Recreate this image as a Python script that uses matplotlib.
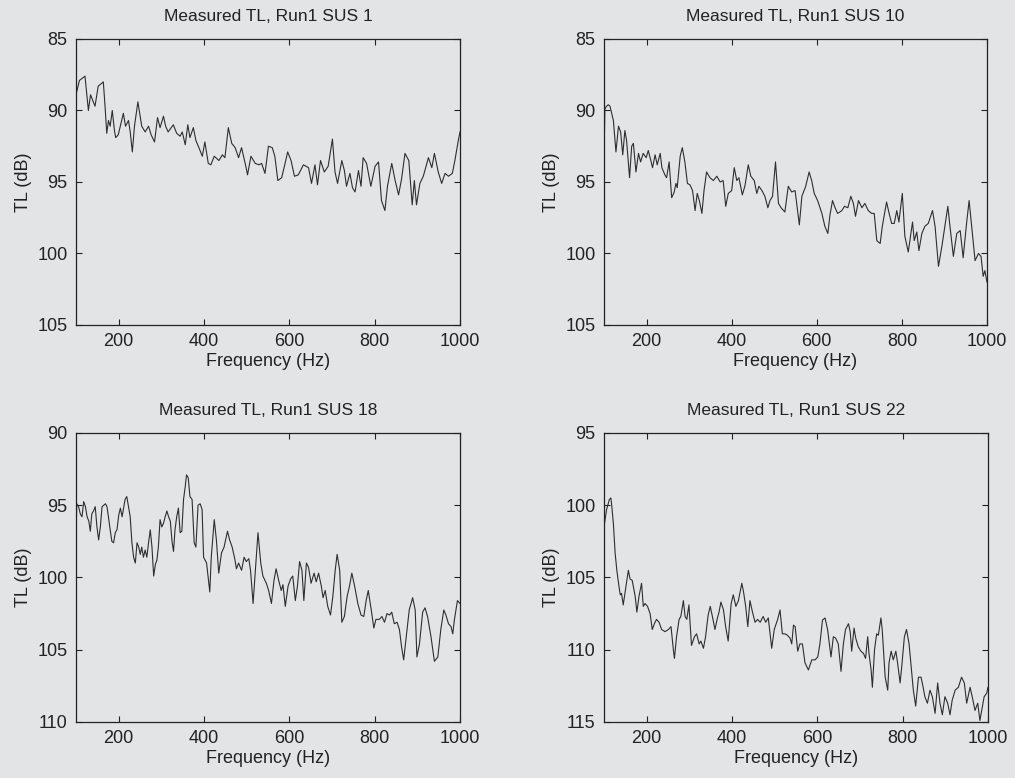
import matplotlib
matplotlib.use("Agg")
import matplotlib.pyplot as plt

plt.rcParams['font.family'] = ['Liberation Sans', 'DejaVu Sans']

titles = ["Measured TL, Run1 SUS 1", "Measured TL, Run1 SUS 10",
          "Measured TL, Run1 SUS 18", "Measured TL, Run1 SUS 22"]
x_ticks = [200, 400, 600, 800, 1000]
y_ranges = [(85, 105), (85, 105), (90, 110), (95, 115)]

freq1 = [100, 108, 121, 129, 134, 144.5, 152, 160, 164, 168, 172, 176, 180, 185, 190, 193, 199, 211, 216, 223,
         227, 232, 237, 245, 254, 262, 270, 276, 284, 291, 297, 305, 310, 316, 328, 336, 344, 349, 356, 362,
         367, 375, 381, 388, 396, 402, 410, 416, 424, 435, 443, 449, 457, 465, 473, 481, 488, 498, 502, 510,
         520, 529, 535, 543, 551, 560, 566, 573, 582, 590, 596, 604, 612, 621, 633, 645, 652, 660, 666, 673,
         682, 691, 701, 707, 713, 723, 729, 734, 742, 748, 754, 762, 768, 773, 781, 791, 801, 809, 816, 824,
         830, 840, 848, 856, 863, 871, 880, 888, 893, 898, 906, 914, 926, 934, 940, 949, 957, 965, 973, 982,
         988, 996, 1000]
tl1 = [88.9, 87.9, 87.6, 90.0, 88.9, 89.7, 88.3, 88.1, 88.0, 89.7, 91.6, 90.7, 91.1, 90.0, 91.4, 91.9, 91.7, 90.2, 91.1, 90.7,
       91.5, 92.9, 91.1, 89.4, 91.1, 91.5, 91.1, 91.7, 92.2, 90.5, 91.2, 90.4, 91.1, 91.5, 91.0, 91.6, 91.8, 91.5, 92.4, 91.0,
       91.9, 91.2, 92.1, 92.6, 93.2, 92.2, 93.7, 93.8, 93.2, 93.5, 93.1, 93.3, 91.2, 92.3, 92.6, 93.3, 92.6, 93.9, 94.5, 93.2,
       93.7, 93.8, 93.7, 94.4, 92.5, 92.6, 93.2, 94.9, 94.7, 93.7, 92.9, 93.5, 94.6, 94.5, 93.8, 94.0, 95.1, 93.8, 95.2, 93.5,
       94.3, 93.9, 92.0, 94.3, 95.1, 93.5, 94.2, 95.3, 94.4, 95.4, 95.7, 94.2, 95.3, 93.3, 93.7, 95.3, 93.9, 93.6, 96.3, 97.0,
       95.3, 93.7, 94.9, 95.9, 94.8, 93.0, 93.5, 96.6, 94.9, 96.6, 95.1, 94.6, 93.3, 94.0, 93.0, 94.3, 95.1, 94.4, 94.6, 94.4,
       93.5, 92.1, 91.5]

freq10 = [100, 102, 106, 110, 114, 122, 126, 128, 134, 139, 144, 149, 153, 160, 165, 169, 175, 181, 186, 192,
          199, 204, 210, 214, 220, 225, 232, 236, 243, 247, 253, 259, 265, 269, 272, 279, 284, 290, 296, 302,
          308, 314, 319, 324, 330, 335, 341, 349, 357, 365, 373, 380, 386, 392, 400, 406, 412, 417, 425, 431,
          439, 445, 453, 459, 464, 471, 478, 485, 490, 496, 503, 510, 516, 525, 533, 541, 549, 559, 565, 574,
          582, 588, 594, 602, 612, 619, 626, 631, 637, 643, 649, 659, 665, 673, 680, 686, 691, 698, 706, 713,
          721, 729, 735, 741, 749, 754, 764, 770, 776, 782, 788, 793, 801, 807, 815, 825, 829, 835, 840, 847,
          854, 862, 872, 878, 886, 894, 901, 908, 913, 921, 929, 937, 944, 952, 958, 964, 972, 980, 986, 991,
          995, 1000]
tl10 = [93.4, 89.9, 89.7, 89.6, 89.7, 90.7, 92.2, 92.9, 91.1, 91.5, 93.1, 91.4, 92.1, 94.7, 92.5, 92.3, 94.3, 93.0, 93.6, 93.0,
        93.3, 92.8, 93.5, 94.0, 93.1, 93.8, 93.0, 94.0, 94.5, 94.7, 93.6, 96.1, 95.7, 95.1, 95.4, 93.2, 92.6, 93.6, 95.1, 95.2,
        95.6, 97.0, 95.8, 96.3, 97.2, 95.6, 94.3, 94.7, 94.9, 94.6, 95.0, 94.9, 96.7, 95.8, 95.6, 94.0, 94.9, 94.7, 95.9, 95.3,
        93.8, 94.6, 94.9, 95.8, 95.3, 95.6, 96.0, 96.8, 96.3, 96.0, 93.6, 96.5, 96.8, 97.1, 95.3, 95.7, 95.6, 98.0, 96.0, 95.3,
        94.3, 94.9, 95.8, 96.3, 97.2, 98.1, 98.6, 97.3, 96.3, 96.8, 97.2, 97.0, 96.7, 96.8, 96.0, 96.5, 97.4, 96.3, 96.8, 96.5,
        97.0, 97.2, 97.2, 99.1, 99.3, 98.1, 96.4, 97.2, 97.9, 97.9, 97.0, 97.8, 95.8, 98.8, 99.9, 97.8, 99.1, 98.5, 99.8, 98.6,
        98.1, 97.9, 97.0, 98.1, 100.9, 99.5, 98.1, 96.7, 98.1, 100.2, 98.6, 98.4, 100.3, 97.9, 96.3, 98.1, 100.5, 100.0, 100.2, 101.6,
        101.2, 102.0]

freq18 = [100, 101.6, 106, 110, 114, 118, 122, 126, 130, 133.5, 137, 141, 145, 149, 153, 157, 161, 165, 169, 172.5,
          176, 180, 184, 188, 192, 196, 200, 204, 208, 211.5, 215, 219, 223, 227, 231, 235, 239, 243, 247, 250.5,
          254, 258, 262, 266, 270, 274, 278, 282, 286, 289.5, 293, 297, 301, 305, 309, 313, 317, 321, 325, 328.5,
          332, 336, 340, 344, 348, 352, 356, 359, 363, 367, 372, 377, 381, 386, 391, 395.5, 399, 406, 413.5, 417,
          424, 429, 434.5, 441, 447, 455, 460, 466, 472, 476, 481, 488, 494, 499, 505, 509, 515, 520, 526.5, 533,
          538, 546, 551.5, 558, 564, 569, 575, 581, 585, 590.5, 597, 603, 608, 614, 619, 624, 629.5, 634, 640, 645,
          651, 658, 663, 668.5, 675, 679, 684, 690, 696.5, 702, 707.5, 712, 718, 723, 729, 735.5, 741, 746.5, 753, 760.5,
          768, 774.5, 780, 785, 792, 798, 803, 811, 817, 823, 829, 835, 840, 846, 852.5, 858, 863, 868, 874, 881,
          889, 895, 899, 905, 912.5, 918, 924, 932, 940, 948, 955, 962, 967, 973, 979, 983, 987, 994, 1000]
tl18 = [97.9, 94.9, 95.1, 95.6, 95.8, 94.75, 95.1, 95.8, 96.1, 96.8, 95.6, 95.4, 95.1, 96.5, 97.4, 96.5, 95.1, 95.0, 94.9, 95.1,
        95.8, 96.7, 97.5, 97.6, 96.9, 96.7, 95.7, 95.2, 95.8, 95.2, 94.6, 94.4, 95.1, 95.8, 97.6, 98.6, 99.0, 97.6, 97.9, 98.4,
        97.9, 98.6, 98.1, 98.6, 97.6, 96.7, 97.9, 99.9, 99.1, 98.8, 97.9, 96.0, 96.5, 96.25, 95.8, 95.4, 95.8, 96.1, 97.5, 98.2,
        96.7, 95.8, 95.2, 96.9, 96.8, 94.6, 93.7, 92.9, 93.1, 94.4, 94.6, 97.6, 97.9, 95.0, 94.9, 95.3, 98.6, 99.0, 101.0, 98.6,
        96.0, 97.4, 99.7, 98.3, 97.9, 96.8, 97.4, 97.9, 98.7, 99.4, 99.0, 99.5, 98.6, 98.9, 98.7, 99.5, 101.8, 99.7, 96.9, 99.0,
        99.9, 100.4, 100.9, 101.8, 100.2, 99.4, 100.2, 100.9, 100.5, 102.0, 100.6, 100.1, 99.9, 101.6, 100.6, 98.9, 99.5, 101.6, 99.0, 99.3,
        100.4, 99.7, 100.3, 99.7, 100.6, 101.4, 100.9, 102.0, 102.6, 101.3, 99.5, 98.4, 99.5, 103.1, 102.7, 101.3, 100.6, 99.7, 100.6, 101.8,
        102.6, 102.7, 101.6, 100.9, 102.25, 103.5, 102.9, 102.9, 102.7, 103.1, 102.5, 102.6, 102.4, 103.2, 103.1, 103.6, 104.8, 105.7, 104.1, 102.25,
        101.4, 102.25, 105.5, 104.6, 102.4, 102.1, 102.7, 104.1, 105.8, 105.5, 103.6, 102.25, 102.6, 103.2, 103.4, 103.9, 102.9, 101.6, 101.8]

freq22 = [100, 101, 106, 112.5, 116, 118, 122, 126, 130, 134, 138, 141, 145, 149, 153, 157, 161, 166, 173, 177,
          182, 188, 192, 196, 202, 208, 213, 218, 223, 229, 235, 243, 251, 257, 262.5, 265, 270, 276, 280, 286,
          290, 294, 299, 305, 312, 317, 323, 327, 333, 338, 344, 349, 354, 360, 365, 369.5, 374, 380, 385, 391,
          398, 403, 409, 415, 423, 427, 432, 437, 442, 448, 454, 460, 466, 473, 479, 485, 493, 499, 507, 512.5,
          518, 524, 530, 536, 540, 544, 548, 554, 559, 565, 571, 579, 587, 594.5, 601, 606, 612, 618, 624, 632,
          637.5, 643, 649, 655.5, 661, 666, 673, 677, 680.5, 686, 690, 696, 702, 708, 713, 718, 721, 726, 729, 734,
          739, 743, 749, 752, 759, 765, 768, 773, 778, 784, 788, 794, 798, 804, 809, 815, 820, 825, 830.5, 837,
          843, 848, 852, 858, 864, 869.5, 876, 882, 887.5, 893, 899, 905.5, 911, 916, 923, 930.5, 938, 944.5, 950, 958,
          963, 969.5, 976, 981, 987, 991, 997, 1000]
tl22 = [105.9, 101.3, 100.3, 99.6, 99.5, 100.0, 101.3, 103.3, 104.5, 105.4, 106.2, 106.1, 106.9, 106.1, 105.3, 104.5, 105.1, 105.2, 106.3, 107.4,
        106.3, 105.4, 107.0, 106.8, 107.0, 107.5, 108.6, 108.2, 107.9, 108.1, 108.6, 108.75, 108.6, 108.4, 110.0, 110.6, 109.1, 107.9, 107.7, 106.6,
        107.7, 107.9, 106.9, 109.7, 109.1, 108.9, 109.6, 109.4, 109.9, 109.1, 107.6, 107.0, 107.7, 108.6, 107.9, 107.4, 106.7, 107.25, 108.4, 109.4,
        106.8, 106.2, 107.0, 106.6, 105.4, 106.0, 107.0, 108.4, 106.6, 107.4, 108.1, 107.9, 108.1, 107.7, 108.1, 107.8, 109.9, 108.6, 107.9, 107.25,
        108.9, 108.9, 109.0, 109.2, 109.6, 108.3, 108.4, 110.1, 109.6, 109.6, 110.9, 111.4, 110.7, 110.7, 110.5, 109.6, 107.95, 107.8, 108.6, 110.5,
        109.1, 109.2, 109.6, 111.5, 109.6, 108.6, 108.2, 108.75, 110.1, 108.5, 109.2, 109.8, 110.1, 110.25, 110.6, 109.1, 110.25, 111.4, 112.6, 110.0,
        108.9, 109.0, 107.8, 108.6, 111.9, 112.8, 110.9, 110.1, 110.7, 110.1, 110.9, 112.3, 111.1, 109.1, 108.6, 109.6, 111.2, 112.8, 113.9, 111.9,
        111.9, 112.6, 113.25, 113.7, 112.8, 113.25, 114.4, 112.3, 113.7, 114.5, 113.25, 113.7, 114.5, 113.5, 112.8, 112.6, 111.9, 112.3, 113.7, 112.6,
        113.25, 114.2, 113.7, 114.9, 113.9, 113.25, 113.0, 112.6]

freqs = [freq1, freq10, freq18, freq22]
tls = [tl1, tl10, tl18, tl22]

bg = '#e2e4e6'
fig = plt.figure(figsize=(10.15, 7.78), dpi=100, facecolor=bg)
positions = [[0.0749, 0.5823, 0.3783, 0.3676],
             [0.5951, 0.5823, 0.3773, 0.3676],
             [0.0749, 0.0720, 0.3783, 0.3715],
             [0.5951, 0.0720, 0.3783, 0.3715]]

for pos, title, (y0, y1), f, tl in zip(positions, titles, y_ranges, freqs, tls):
    ax = fig.add_axes(pos)
    ax.set_facecolor(bg)
    ax.plot(f, tl, color='#2e2e2e', lw=0.8)
    ax.set_xlim(100, 1000)
    ax.set_ylim(y1, y0)
    ax.set_xticks(x_ticks)
    ax.set_yticks(list(range(y0, y1 + 1, 5)))
    ax.tick_params(direction='in', top=True, right=True, length=4, width=0.8,
                   labelsize=13, pad=6, colors='#222222')
    for sp in ax.spines.values():
        sp.set_color('#222222')
        sp.set_linewidth(0.9)
    ax.set_title(title, fontsize=12.5, color='#222222', pad=13)
    ax.set_xlabel('Frequency (Hz)', fontsize=13, color='#222222', labelpad=2)
    ax.set_ylabel('TL (dB)', fontsize=13, color='#222222', labelpad=4)

fig.savefig('out.png', dpi=100, facecolor=bg)
